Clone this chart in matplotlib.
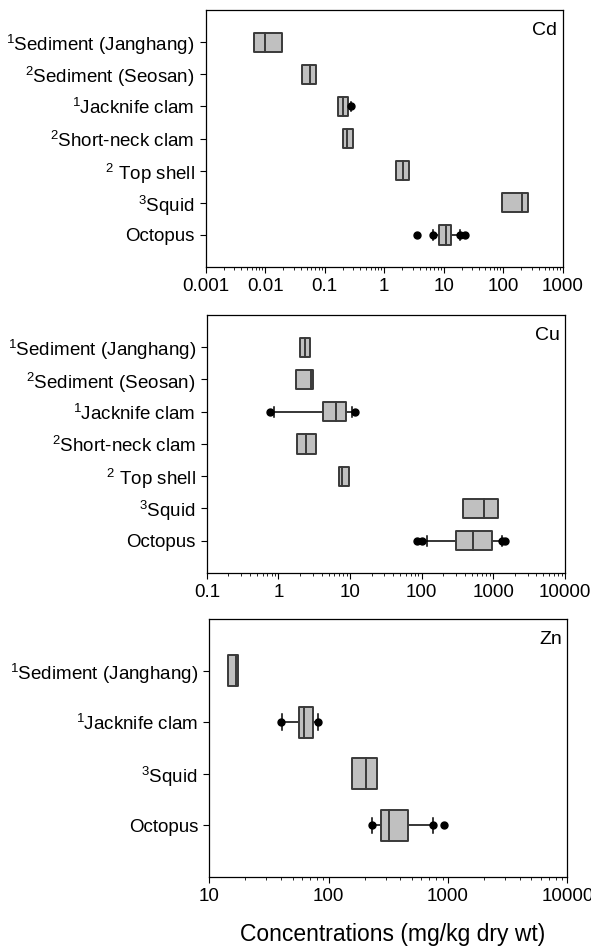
import matplotlib.pyplot as plt
from matplotlib.ticker import FixedLocator, LogLocator, NullFormatter

plt.rcParams['font.family'] = ['Liberation Sans', 'DejaVu Sans']
plt.rcParams['mathtext.fontset'] = 'custom'
plt.rcParams['mathtext.rm'] = 'Liberation Sans'
plt.rcParams['mathtext.default'] = 'regular'

# row labels (top to bottom)
cd_labels = [r'$^{1}$Sediment (Janghang)', r'$^{2}$Sediment (Seosan)', r'$^{1}$Jacknife clam',
             r'$^{2}$Short-neck clam', r'$^{2}$ Top shell', r'$^{3}$Squid', 'Octopus']
cu_labels = cd_labels
zn_labels = [r'$^{1}$Sediment (Janghang)', r'$^{1}$Jacknife clam', r'$^{3}$Squid', 'Octopus']

# box stats: q1, median, q3, lower whisker, upper whisker (None = no whisker)
cd_q1 = [0.0065, 0.0416, 0.168, 0.200, 1.56, 94.4, 8.24]
cd_med = [0.0099, 0.0568, 0.200, 0.237, 2.05, 210, 10.9]
cd_q3 = [0.0195, 0.0724, 0.247, 0.303, 2.58, 258, 13.3]
cd_wlo = [None, None, None, None, None, None, 6.53]
cd_whi = [None, None, 0.273, None, None, None, 19.0]
cd_out = [[], [], [0.275], [], [], [], [3.6, 6.5, 19.0, 22.8]]

cu_q1 = [2.02, 1.77, 4.14, 1.83, 7.08, 379, 303]
cu_med = [2.34, 2.81, 6.3, 2.45, 7.8, 729, 524]
cu_q3 = [2.75, 3.03, 8.77, 3.34, 9.77, 1169, 955]
cu_wlo = [None, None, 0.855, None, None, None, 118]
cu_whi = [None, None, 10.6, None, None, None, 1303]
cu_out = [[], [], [0.767, 11.6], [], [], [], [85, 102, 1330, 1449]]

zn_q1 = [14.3, 56.9, 157, 277]
zn_med = [16.7, 62.2, 207, 319]
zn_q3 = [17.3, 73.6, 253, 460]
zn_wlo = [None, 40.6, None, 233]
zn_whi = [None, 81.5, None, 747]
zn_out = [[], [40.2, 82], [], [233, 747, 929]]

panels = [
    ('Cd', cd_labels, cd_q1, cd_med, cd_q3, cd_wlo, cd_whi, cd_out, (0.001, 1000),
     [0.001, 0.01, 0.1, 1, 10, 100, 1000], ['0.001', '0.01', '0.1', '1', '10', '100', '1000'],
     [0.348, 0.718, 0.604, 0.2714]),
    ('Cu', cu_labels, cu_q1, cu_med, cu_q3, cu_wlo, cu_whi, cu_out, (0.1, 10000),
     [0.1, 1, 10, 100, 1000, 10000], ['0.1', '1', '10', '100', '1000', '10000'],
     [0.350, 0.395, 0.606, 0.2724]),
    ('Zn', zn_labels, zn_q1, zn_med, zn_q3, zn_wlo, zn_whi, zn_out, (10, 10000),
     [10, 100, 1000, 10000], ['10', '100', '1000', '10000'],
     [0.354, 0.074, 0.606, 0.2724]),
]

fig = plt.figure(figsize=(5.91, 9.47), dpi=100)

for name, labels, q1, med, q3, wlo, whi, out, xlim, xt, xtl, pos in panels:
    ax = fig.add_axes(pos)
    n = len(labels)
    ys = list(range(n, 0, -1))
    h = 0.6
    for y, a, m, b, lo, hi, o in zip(ys, q1, med, q3, wlo, whi, out):
        if lo is not None:
            ax.plot([lo, a], [y, y], color='black', lw=1.1, zorder=1)
            ax.plot([lo, lo], [y - h / 4, y + h / 4], color='black', lw=1.1, zorder=1)
        if hi is not None:
            ax.plot([b, hi], [y, y], color='black', lw=1.1, zorder=1)
            ax.plot([hi, hi], [y - h / 4, y + h / 4], color='black', lw=1.1, zorder=1)
        ax.fill_between([a, b], y - h / 2, y + h / 2, facecolor='#c0c0c0',
                        edgecolor='#3a3a3a', lw=1.4, zorder=2)
        ax.plot([m, m], [y - h / 2, y + h / 2], color='#3a3a3a', lw=1.4, zorder=3)
        if o:
            ax.plot(o, [y] * len(o), 'o', color='black', ms=5, zorder=4)
    ax.set_xscale('log')
    ax.set_xlim(*xlim)
    ax.set_ylim(0, n + 1)
    ax.xaxis.set_major_locator(FixedLocator(xt))
    ax.set_xticklabels(xtl)
    ax.xaxis.set_minor_locator(LogLocator(base=10, subs=range(2, 10), numticks=20))
    ax.xaxis.set_minor_formatter(NullFormatter())
    ax.set_yticks(ys)
    ax.set_yticklabels(labels)
    ax.tick_params(axis='both', which='major', labelsize=13.5, length=4, width=0.8,
                   direction='out', pad=4)
    ax.tick_params(axis='x', which='minor', length=2, width=0.6, direction='out')
    for s in ax.spines.values():
        s.set_linewidth(0.9)
    ax.text(0.985, 0.955, name, transform=ax.transAxes, ha='right', va='top', fontsize=14)

fig.text(0.665, 0.0127, 'Concentrations (mg/kg dry wt)', ha='center', va='center', fontsize=16.5)

fig.savefig('out.png', dpi=100)
